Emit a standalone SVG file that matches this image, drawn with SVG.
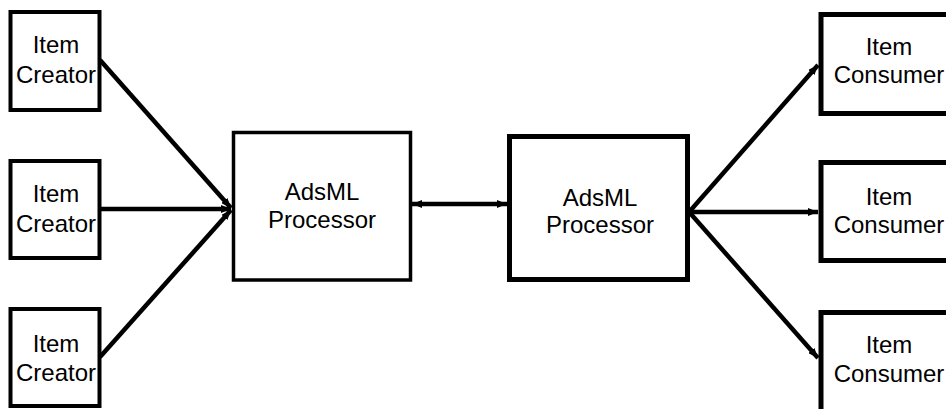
<svg xmlns="http://www.w3.org/2000/svg" width="946" height="409" viewBox="0 0 946 409">
  <style>
    .box { fill: #fff; stroke: #000; }
    .lbl { font-family: "Liberation Sans", Arial, sans-serif; font-size: 24px; fill: #000; text-anchor: middle; }
    .wire { stroke: #000; stroke-width: 4.5; fill: none; }
  </style>
  <defs>
    <marker id="head" viewBox="0 0 10 8" refX="10" refY="4" markerWidth="10" markerHeight="8" markerUnits="userSpaceOnUse" orient="auto-start-reverse">
      <path d="M0,0 L10,4 L0,8 Z" fill="#000"/>
    </marker>
  </defs>
  <rect width="946" height="409" fill="#fff"/>

  <g id="connectors">
    <line class="wire" x1="100" y1="60" x2="231" y2="208" marker-end="url(#head)"/>
    <line class="wire" x1="99" y1="209" x2="231" y2="209" marker-end="url(#head)"/>
    <line class="wire" x1="100" y1="357" x2="231" y2="210" marker-end="url(#head)"/>
    <line class="wire" x1="412" y1="204" x2="507" y2="204" marker-start="url(#head)" marker-end="url(#head)"/>
    <line class="wire" x1="690" y1="211" x2="818" y2="65" marker-end="url(#head)"/>
    <line class="wire" x1="690" y1="212" x2="818" y2="212" marker-end="url(#head)"/>
    <line class="wire" x1="690" y1="213" x2="818" y2="358" marker-end="url(#head)"/>
  </g>

  <g id="creator1">
    <rect class="box" x="10.5" y="12" width="89" height="98" stroke-width="4"/>
    <text class="lbl" x="56" y="53">Item</text>
    <text class="lbl" x="56" y="83">Creator</text>
  </g>
  <g id="creator2">
    <rect class="box" x="10.5" y="161" width="89" height="97" stroke-width="4"/>
    <text class="lbl" x="56" y="202">Item</text>
    <text class="lbl" x="56" y="232">Creator</text>
  </g>
  <g id="creator3">
    <rect class="box" x="10.5" y="309" width="89" height="97" stroke-width="4"/>
    <text class="lbl" x="56" y="352">Item</text>
    <text class="lbl" x="56" y="381">Creator</text>
  </g>

  <g id="processor1">
    <rect class="box" x="233.5" y="132.5" width="177" height="147.5" stroke-width="3.5"/>
    <text class="lbl" x="322" y="200">AdsML</text>
    <text class="lbl" x="322" y="228">Processor</text>
  </g>
  <g id="processor2">
    <rect class="box" x="509.5" y="136.5" width="178" height="143" stroke-width="5"/>
    <text class="lbl" x="600" y="206">AdsML</text>
    <text class="lbl" x="600" y="233">Processor</text>
  </g>

  <g id="consumer1">
    <rect class="box" x="821" y="14.5" width="136" height="99" stroke-width="5"/>
    <text class="lbl" x="889" y="55">Item</text>
    <text class="lbl" x="889" y="83">Consumer</text>
  </g>
  <g id="consumer2">
    <rect class="box" x="821" y="162.5" width="136" height="98" stroke-width="5"/>
    <text class="lbl" x="889" y="205">Item</text>
    <text class="lbl" x="889" y="233">Consumer</text>
  </g>
  <g id="consumer3">
    <rect class="box" x="821" y="312.5" width="136" height="100" stroke-width="5"/>
    <text class="lbl" x="889" y="353">Item</text>
    <text class="lbl" x="889" y="382">Consumer</text>
  </g>
</svg>
